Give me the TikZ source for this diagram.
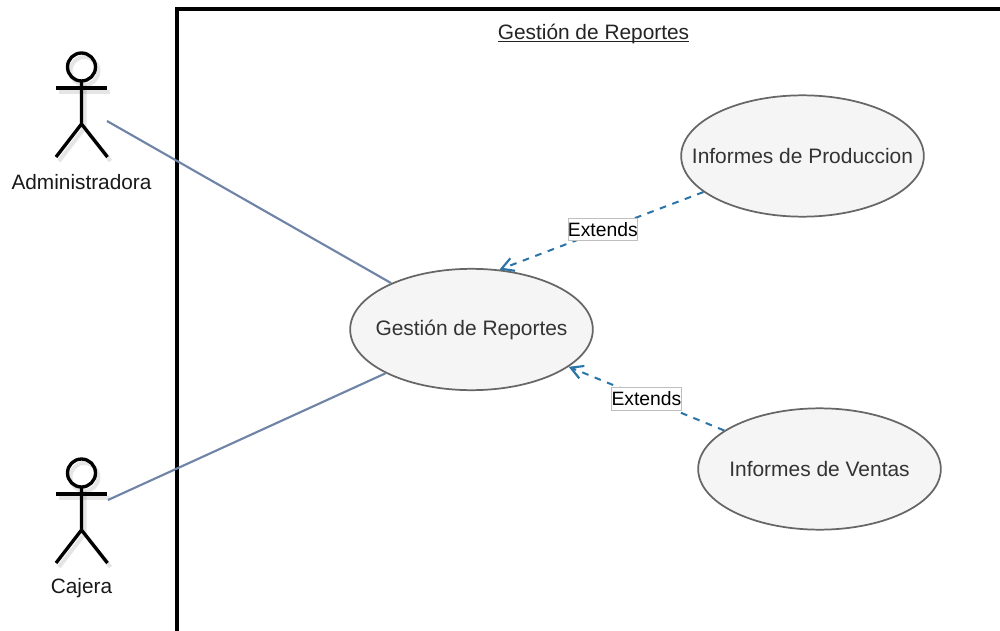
\documentclass[tikz,border=0pt]{standalone}
\usepackage{fontspec}
\setmainfont{Liberation Sans}
\usetikzlibrary{arrows.meta,shapes.geometric}
\definecolor{assoc}{HTML}{6F84A6}
\definecolor{dep}{HTML}{2A74A8}
\definecolor{ucfill}{HTML}{F5F5F5}
\definecolor{ucline}{HTML}{666666}
\definecolor{uctext}{HTML}{333333}
\tikzset{
  x=0.75pt,y=-0.75pt,
  usecase/.style={ellipse,draw=ucline,fill=ucfill,line width=1.3pt,minimum width=182pt,minimum height=91pt,inner sep=0pt,text=uctext,font=\fontsize{15.7}{18}\selectfont},
  assocline/.style={draw=assoc,line width=1.6pt},
  extline/.style={draw=dep,line width=1.5pt,dash pattern=on 5pt off 5pt,-{Straight Barb[length=9pt,width=10pt,line width=1.6pt]}},
  extlabel/.style={solid,draw=black!25,line width=0.5pt,fill=white,text=black,inner sep=0pt,minimum width=51pt,minimum height=17pt,font=\fontsize{14.5}{16}\selectfont},
  actorlabel/.style={text=uctext!50!black,font=\fontsize{15.6}{18}\selectfont,inner sep=0pt},
  framebox/.style={draw=black,line width=2.4pt},
  titletext/.style={anchor=base,font=\fontsize{15.65}{18}\selectfont,text=uctext!70!black,inner sep=0pt},
  actorstroke/.style={draw=black,line width=2.5pt},
  actorshadow/.style={draw=black,opacity=0.10,line width=3pt}
}
\newcommand{\stickfig}[1]{%
  \begin{scope}[yshift=#1]
    \begin{scope}[actorshadow,shift={(3,4)}]
      \draw (81.5,67) circle[radius=14];
      \draw (56,88) -- (107,88);
      \draw (81.5,81) -- (81.5,124) (56,157) -- (81.5,124) -- (107.5,157);
    \end{scope}
    \draw[actorstroke] (81.5,67) circle[radius=14];
    \draw[actorstroke] (56,88) -- (107,88);
    \draw[actorstroke] (81.5,81) -- (81.5,124) (56,157) -- (81.5,124) -- (107.5,157);
  \end{scope}}
\newcommand{\uclabel}[1]{\makebox[0pt]{#1}}
\newcommand{\tightul}[1]{\setbox0\hbox{#1}\rlap{\rule[-2.4pt]{\wd0}{1.4pt}}\box0}
\begin{document}
\begin{tikzpicture}
\useasboundingbox (0,0) rectangle (1000,631);
\clip (0,0) rectangle (1000,631);
\fill[white] (0,0) rectangle (1000,631);
\draw[framebox] (177,640) -- (177,9) -- (1010,9);
\node[titletext] (title) at (593.5,39.3) {\tightul{Gestión de Reportes}};
\stickfig{0pt}
\stickfig{-304.5pt}
\coordinate (adm) at (107,121);
\coordinate (caj) at (108,500);
\node[actorlabel] (admlabel) at (81.5,182) {Administradora};
\node[actorlabel] (cajlabel) at (81.5,588) {Cajera};
\node[usecase] (rep) at (471.5,329.5) {\uclabel{Gestión de Reportes}};
\node[usecase] (prod) at (802.5,156) {\uclabel{Informes de Produccion}};
\node[usecase] (vent) at (819.5,469) {\uclabel{Informes de Ventas}};
\draw[assocline] (adm) -- (rep.150);
\draw[assocline] (caj) -- (rep.207);
\draw[extline] (prod.200) -- node[extlabel,pos=0.5,xshift=1pt,yshift=1pt] (ext1) {Extends} (rep.65);
\draw[extline] (vent.158) -- node[extlabel,pos=0.5] (ext2) {Extends} (rep.-21.6);
\end{tikzpicture}
\end{document}
